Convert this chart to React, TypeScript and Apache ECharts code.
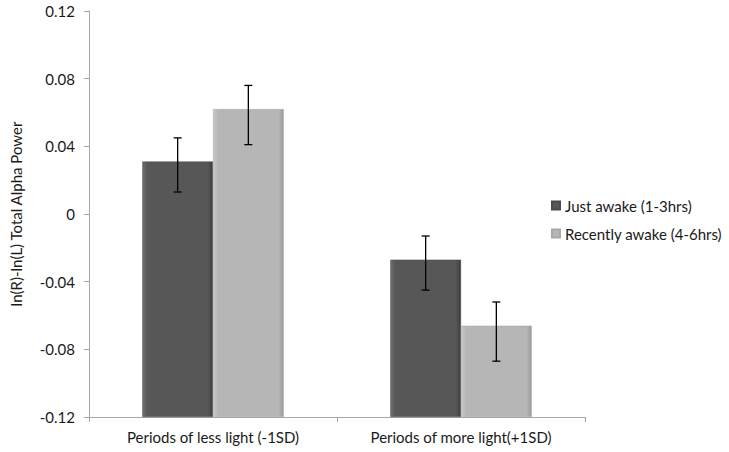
import React, { useEffect, useRef } from "react";
import * as echarts from "echarts";

const categories = ["Periods of less light (-1SD)", "Periods of more light(+1SD)"];
const seriesNames = ["Just awake (1-3hrs)", "Recently awake (4-6hrs)"];
const justAwake = [0.031, -0.027];
const recentlyAwake = [0.062, -0.066];
const justAwakeErrHigh = [0.045, -0.013];
const justAwakeErrLow = [0.013, -0.045];
const recentlyAwakeErrHigh = [0.076, -0.052];
const recentlyAwakeErrLow = [0.041, -0.087];
const yTicks = [-0.12, -0.08, -0.04, 0, 0.04, 0.08, 0.12];

const BASE = -0.12;
const FONT = "Lato, 'Open Sans', sans-serif";
const TEXT = "#1a1a1a";

export default function App() {
  const ref = useRef<HTMLDivElement>(null);
  useEffect(() => {
    const chart = echarts.init(ref.current!, null, { renderer: "svg" });
    const shift = (v: number) => v - BASE;
    const catGapPct = 43;
    const errSeries = (hi: number[], lo: number[], idx: number) => ({
      type: "custom",
      z: 10,
      silent: true,
      data: hi.map((h, i) => [i, shift(h), shift(lo[i])]),
      renderItem: (params: any, api: any) => {
        const ci = api.value(0);
        const h = api.value(1);
        const l = api.value(2);
        const catW = api.size([1, 0])[0];
        const barW = (catW * (1 - catGapPct / 100)) / 2;
        const center = api.coord([ci, h]);
        const x = center[0] + (idx === 0 ? -barW / 2 : barW / 2);
        const yTop = center[1];
        const yBot = api.coord([ci, l])[1];
        const cap = 4;
        const style = { stroke: "#000", lineWidth: 1.3 };
        return {
          type: "group",
          children: [
            { type: "line", shape: { x1: x, y1: yTop, x2: x, y2: yBot }, style },
            { type: "line", shape: { x1: x - cap, y1: yTop, x2: x + cap, y2: yTop }, style },
            { type: "line", shape: { x1: x - cap, y1: yBot, x2: x + cap, y2: yBot }, style },
          ],
        };
      },
    });
    const grad = (c1: string, c2: string, c3: string) =>
      new echarts.graphic.LinearGradient(0, 0, 1, 0, [
        { offset: 0, color: c1 },
        { offset: 0.07, color: c2 },
        { offset: 0.93, color: c2 },
        { offset: 1, color: c3 },
      ]);
    chart.setOption({
      animation: false,
      grid: { left: 84, right: 144, top: 11, bottom: 35 },
      legend: {
        orient: "vertical",
        left: 546,
        top: 193,
        itemWidth: 8,
        itemHeight: 8,
        itemGap: 13,
        icon: "rect",
        data: seriesNames,
        textStyle: { fontFamily: FONT, fontSize: 15, color: TEXT },
      },
      xAxis: {
        type: "category",
        data: categories,
        axisLine: { lineStyle: { color: "#a6a6a6" } },
        axisTick: { show: true, length: 5, lineStyle: { color: "#a6a6a6" } },
        axisLabel: { fontFamily: FONT, fontSize: 15, color: TEXT, margin: 12 },
      },
      yAxis: {
        type: "value",
        min: 0,
        max: yTicks[yTicks.length - 1] - BASE,
        interval: 0.04,
        name: "ln(R)-ln(L) Total Alpha Power",
        nameLocation: "middle",
        nameGap: 66,
        nameTextStyle: { fontFamily: FONT, fontSize: 15, color: TEXT },
        splitLine: { show: false },
        axisLine: { show: true, lineStyle: { color: "#a6a6a6" } },
        axisTick: { show: true, length: 5, lineStyle: { color: "#a6a6a6" } },
        axisLabel: {
          fontFamily: FONT,
          fontSize: 15,
          color: TEXT,
          margin: 14,
          formatter: (v: number) => {
            const r = Math.round((v + BASE) * 100) / 100;
            return r === 0 ? "0" : r.toFixed(2);
          },
        },
      },
      series: [
        {
          name: seriesNames[0],
          type: "bar",
          barGap: "0%",
          barCategoryGap: catGapPct + "%",
          data: justAwake.map(shift),
          itemStyle: { color: grad("#6e6e6e", "#575757", "#3c3c3c"), borderColor: "#4a4a4a", borderWidth: 0.5 },
        },
        {
          name: seriesNames[1],
          type: "bar",
          barGap: "0%",
          barCategoryGap: catGapPct + "%",
          data: recentlyAwake.map(shift),
          itemStyle: { color: grad("#c8c8c8", "#b6b6b6", "#9a9a9a"), borderColor: "#a8a8a8", borderWidth: 0.5 },
        },
        errSeries(justAwakeErrHigh, justAwakeErrLow, 0),
        errSeries(recentlyAwakeErrHigh, recentlyAwakeErrLow, 1),
      ],
    });
    return () => chart.dispose();
  }, []);
  return <div ref={ref} style={{ width: 729, height: 452, position: "absolute", left: 0, top: 0, background: "#fff" }} />;
}
